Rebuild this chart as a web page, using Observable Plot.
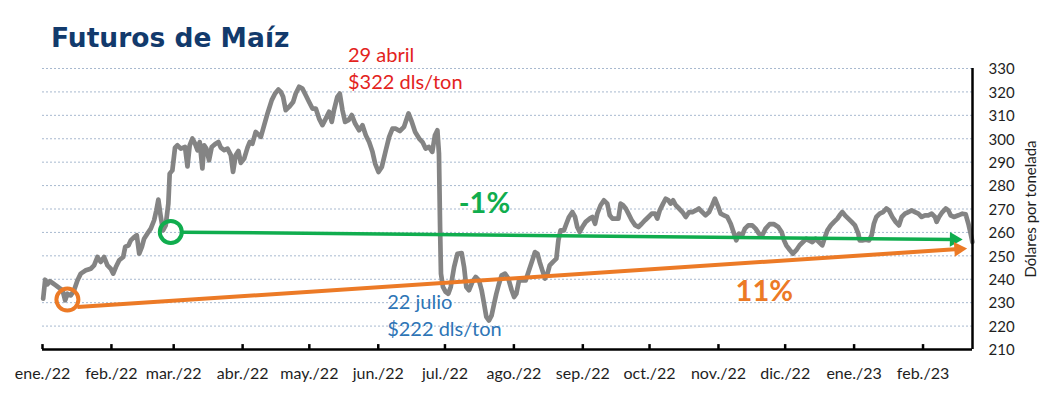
<!DOCTYPE html>
<html><head><meta charset="utf-8">
<script src="https://cdn.jsdelivr.net/npm/d3@7"></script>
<script src="https://cdn.jsdelivr.net/npm/@observablehq/plot@0.6"></script>
<style>
body{margin:0;background:#fff;}
#wrap{position:relative;width:1041px;height:394px;}
#title{position:absolute;left:51px;top:25px;margin:0;font:700 26.5px "DejaVu Sans", sans-serif;color:#123a6c;letter-spacing:0px;line-height:1;}
</style></head><body>
<div id="wrap"><h1 id="title">Futuros de Maíz</h1></div>
<script>
// días transcurridos desde el 1 de enero de 2022
const dias = [
0.3,1.2,2.2,3.3,4.5,6.0,7.5,9.0,10.2,11.2,12.7,14.2,15.7,17.2,19.5,21.7,23.2,24.7,26.2,27.7,29.2,30.7,31.8,33.0,34.5,36.3,37.2,38.7,39.7,41.2,42.4,43.5,44.7,45.7,47.2,48.7,50.2,51.2,52.1,53.2,54.2,55.4,56.6,57.2,58.4,59.6,60.7,62.2,64.1,65.2,66.2,67.4,68.6,69.7,70.7,71.9,72.7,73.7,74.9,76.1,77.9,79.1,80.2,81.7,83.2,84.7,85.7,86.9,88.1,89.2,90.7,92.2,93.2,94.4,
95.9,98.2,99.7,101.2,103.1,104.6,106.1,107.2,108.2,109.4,110.9,112.7,113.9,115.4,116.9,118.4,119.9,121.4,122.9,124.4,125.9,127.4,128.9,130.1,131.1,132.6,133.7,134.9,136.1,137.6,139.1,140.6,142.4,143.9,145.4,146.9,148.4,149.6,151.1,152.6,154.4,155.9,157.4,158.9,160.7,162.6,164.6,166.1,167.6,169.4,170.9,172.3,173.8,175.3,176.5,177.6,178.3,178.8,179.2,180.1,181.3,182.5,183.6,185.1,186.6,188.5,189.6,190.6,191.8,193.3,
194.8,196.3,197.5,198.6,199.6,200.8,202.0,203.1,204.1,205.3,206.5,208.0,209.5,211.0,212.1,213.1,214.3,215.8,217.3,218.8,220.3,221.5,222.6,223.6,224.8,226.0,227.1,228.1,229.6,231.1,232.0,233.0,234.5,235.6,236.8,238.3,239.5,240.5,241.6,242.8,244.3,246.1,247.3,248.5,249.5,251.0,252.5,254.0,255.1,256.3,257.8,259.0,260.0,261.1,262.3,263.5,265.0,266.5,268.0,269.5,271.0,272.5,274.0,275.5,276.5,277.6,279.1,280.3,281.5,282.5,283.6,284.8,286.3,287.8,289.3,290.8,292.3,293.8,295.2,296.7,298.2,299.8,301.2,302.4,
303.9,305.0,306.5,308.0,309.5,311.0,312.0,313.2,314.7,315.9,317.4,319.2,320.7,322.2,323.7,325.2,327.0,329.0,330.9,332.4,333.5,334.5,336.0,337.5,339.0,340.5,342.0,343.5,344.7,346.2,347.7,349.2,350.7,351.9,353.0,354.5,356.0,357.5,358.5,359.7,360.9,362.4,363.9,365.4,366.9,367.5,368.7,370.2,371.7,372.9,373.9,375.0,376.5,378.0,379.5,380.7,382.2,383.7,385.2,386.4,387.9,389.4,390.9,392.4,393.9,395.4,396.9,398.4,399.9,401.4,402.1,403.2,404.7,406.2,407.4,408.4,409.9,411.9,413.7,415.2,416.4,417.4,418.2
];
// dólares por tonelada
const precio = [
231.7,239.8,237.8,239.2,238.4,237.4,236.3,235.3,231.0,233.8,233.1,235.3,239.5,242.4,243.8,244.5,245.9,249.5,247.4,249.5,245.9,244.5,242.4,245.2,248.1,249.5,253.8,254.5,256.6,258.0,258.8,250.9,253.8,257.3,259.5,261.6,265.2,269.4,274.0,266.6,260.9,263.0,272.3,285.1,286.5,296.2,297.2,295.8,296.5,288.2,297.2,300.1,297.9,295.1,298.6,287.3,297.2,295.8,290.8,296.5,297.9,298.6,296.2,295.1,295.8,293.0,285.8,293.0,294.8,289.7,291.5,296.2,298.6,297.9,
302.9,300.8,305.8,310.8,316.5,319.3,321.0,320.0,317.9,312.2,313.6,315.7,319.3,322.2,321.4,318.6,315.7,312.9,312.9,308.6,305.8,308.6,311.5,307.2,312.2,317.9,319.3,312.2,307.2,307.9,310.1,306.5,303.6,305.8,301.5,298.6,294.4,289.4,285.8,288.0,295.1,300.8,304.3,304.3,303.3,305.1,310.8,307.2,302.9,300.1,298.6,295.8,296.5,294.4,301.5,303.6,293.7,262.3,242.4,236.7,234.6,233.8,236.7,245.2,250.9,251.2,245.2,236.7,235.3,238.8,
241.0,239.5,235.3,229.5,223.9,222.4,224.6,229.5,233.8,238.1,241.7,242.4,240.3,235.3,232.4,233.8,239.5,239.5,239.5,243.8,248.1,251.6,250.9,247.4,243.8,240.3,242.4,245.9,247.4,248.8,256.6,260.9,260.9,263.7,266.6,268.7,266.6,262.3,260.2,262.3,264.5,265.9,266.6,263.7,268.0,271.6,273.7,272.3,267.3,265.9,265.9,265.9,272.3,271.6,270.2,268.0,265.2,263.1,262.3,263.7,265.2,266.6,268.0,268.0,265.9,269.4,272.3,274.4,273.7,272.3,273.7,271.6,270.2,268.7,266.6,268.7,268.7,269.4,270.2,268.7,267.3,268.7,271.6,274.4,
270.9,268.0,267.3,266.6,263.7,259.5,256.6,259.5,258.8,261.6,263.0,263.0,261.6,259.5,258.8,261.6,263.5,263.5,262.3,260.2,256.6,254.5,252.6,250.9,252.4,254.5,255.9,257.3,256.6,255.9,257.3,255.9,254.5,258.0,260.9,263.0,264.5,265.9,267.3,268.7,267.3,265.9,264.5,263.0,259.5,256.6,256.6,256.9,256.6,258.8,263.7,266.6,268.0,268.7,270.2,269.4,266.6,264.5,263.0,266.6,268.0,268.7,269.4,268.7,268.0,266.6,267.3,267.3,268.0,266.6,264.5,266.6,268.7,270.2,269.4,267.3,266.6,267.3,268.0,267.7,263.7,259.5,255.9
];
const mesesInicio = ["2022-01-01","2022-02-01","2022-03-01","2022-04-01","2022-05-01","2022-06-01","2022-07-01","2022-08-01","2022-09-01","2022-10-01","2022-11-01","2022-12-01","2023-01-01","2023-02-01"];
const mesesEtiquetas = ["ene./22","feb./22","mar./22","abr./22","may./22","jun./22","jul./22","ago./22","sep./22","oct./22","nov./22","dic./22","ene./23","feb./23"];
const ticksY = [210,220,230,240,250,260,270,280,290,300,310,320,330];
const rangoFechas = ["2022-01-01T00:00Z","2023-02-23T06:00Z"];
const rangoPrecio = [210, 330];

// anotaciones (día, precio)
const circulos = [
  {dia: 57.7, precio: 260.2, color: "#10ad4e"},
  {dia: 11.2, precio: 231.3, color: "#ec7a26"}
];
const tendencias = [
  {dia1: 63.0, precio1: 260.1, dia2: 410.0, precio2: 257.0, color: "#10ad4e", grosor: 3.5, giro: 90.5},
  {dia1: 15.7, precio1: 228.1, dia2: 412.0, precio2: 252.9, color: "#ec7a26", grosor: 4, giro: 86.2}
];
const notas = [
  {dia: 137.4, precio: 340.9, texto: "29 abril\n$322 dls/ton", color: "#e3231d"},
  {dia: 155.0, precio: 235.6, texto: "22 julio\n$222 dls/ton", color: "#2e75b6"}
];
const porcentajes = [
  {dia: 187.2, precio: 277.2, texto: "-1%", color: "#10ad4e"},
  {dia: 311.7, precio: 239.5, texto: "11%", color: "#ec7a26"}
];

const base = Date.UTC(2022, 0, 1);
const fecha = d => new Date(base + d * 864e5);
const serie = dias.map((d, i) => ({fecha: fecha(d), precio: precio[i]}));
const meses = mesesInicio.map((s, i) => ({fecha: new Date(s), etiqueta: mesesEtiquetas[i]}));

const chart = Plot.plot({
  width: 1041, height: 394,
  marginLeft: 42, marginRight: 69, marginTop: 68, marginBottom: 45,
  x: {type: "utc", domain: rangoFechas.map(s => new Date(s)), axis: null},
  y: {domain: rangoPrecio, axis: null},
  style: {fontFamily: "Lato, sans-serif", background: "white", color: "#1e1e1e", overflow: "visible"},
  marks: [
    Plot.ruleY(ticksY.filter(v => v > 210), {stroke: "#a8b9cf", strokeWidth: 1, strokeDasharray: "2,2"}),
    Plot.line(serie, {x: "fecha", y: "precio", stroke: "#848484", strokeWidth: 4.7, strokeLinejoin: "round", strokeLinecap: "round"}),
    Plot.link(tendencias, {x1: d => fecha(d.dia1), y1: "precio1", x2: d => fecha(d.dia2), y2: "precio2", stroke: "color", strokeWidth: "grosor"}),
    Plot.dot(tendencias, {x: d => fecha(d.dia2), y: "precio2", symbol: "triangle", r: 5.5, fill: "color", rotate: "giro"}),
    Plot.dot(circulos, {x: d => fecha(d.dia), y: "precio", r: 11, stroke: "color", strokeWidth: 4, fill: "none"}),
    Plot.ruleY([210], {stroke: "black", strokeWidth: 2.5}),
    Plot.ruleX([new Date(rangoFechas[1])], {stroke: "black", strokeWidth: 2.5}),
    Plot.ruleX(meses, {x: "fecha", y1: 210, y2: 212.1, stroke: "black", strokeWidth: 2.5}),
    Plot.text(meses, {x: "fecha", y: 210, text: "etiqueta", dy: 24, fontSize: 16, textAnchor: "middle"}),
    Plot.axisY({anchor: "right", ticks: ticksY, tickSize: 0, tickPadding: 16, fontSize: 15, label: null, dy: 1}),
    Plot.text(["Dólares por tonelada"], {frameAnchor: "right", dx: 59, rotate: -90, fontSize: 15, textAnchor: "middle"}),
    Plot.text(notas, {x: d => fecha(d.dia), y: "precio", text: "texto", fill: "color", fontSize: 20, lineHeight: 1.35, textAnchor: "start", lineAnchor: "top"}),
    Plot.text(porcentajes, {x: d => fecha(d.dia), y: "precio", text: "texto", fill: "color", fontSize: 29, fontWeight: "bold", textAnchor: "start", lineAnchor: "top"})
  ]
});
document.getElementById("wrap").appendChild(chart);
</script>
</body></html>
